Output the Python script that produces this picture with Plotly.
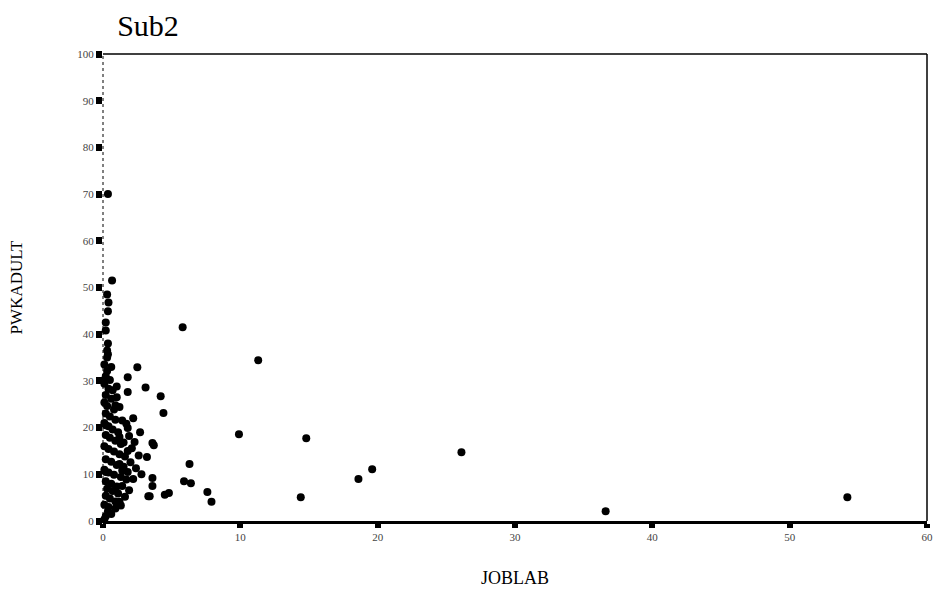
import plotly.graph_objects as go

# ---- data ----
title_text = "Sub2"
x_label = "JOBLAB"
y_label = "PWKADULT"
x_ticks = [0, 10, 20, 30, 40, 50, 60]
y_ticks = [0, 10, 20, 30, 40, 50, 60, 70, 80, 90, 100]

# scattered points away from the axis
outer_x = [5.8, 11.3, 4.2, 4.4, 9.9, 14.8, 26.1, 19.6, 18.6, 14.4, 54.2, 36.6,
           6.3, 5.9, 6.4, 7.6, 7.9, 4.5, 4.8, 3.6, 3.4, 3.6, 2.8, 3.2, 3.7, 3.6,
           2.5, 1.8, 3.1, 1.0, 1.8, 1.2, 1.8, 2.3, 1.8, 1.2, 1.8, 1.4, 1.2, 3.3]
outer_y = [41.5, 34.4, 26.7, 23.1, 18.6, 17.7, 14.7, 11.1, 9.0, 5.1, 5.1, 2.1,
           12.2, 8.5, 8.1, 6.2, 4.1, 5.6, 6.0, 7.5, 5.3, 9.2, 10.0, 13.7, 16.2, 16.7,
           32.9, 30.8, 28.6, 28.8, 27.6, 24.4, 19.9, 16.9, 15.0, 12.2, 10.5, 7.5, 4.1, 5.3]

# dense group close to the vertical axis
near_x = [0.66, 0.3, 0.36, 0.2, 0.36, 0.36, 0.36, 0.36, 0.2, 0.2, 0.2, 0.3,
          0.1, 0.3, 0.2, 0.5, 0.1, 0.4, 0.2, 0.6, 0.1, 0.3, 0.8, 0.2, 0.5, 0.9,
          0.1, 0.4, 0.7, 1.1, 0.2, 0.5, 0.9, 1.3, 0.1, 0.4, 0.8, 1.2, 1.6, 0.2,
          0.6, 1.0, 1.5, 0.1, 0.4, 0.8, 1.3, 1.7, 0.2, 0.6, 1.0, 0.3, 0.7, 1.1,
          0.2, 0.5, 0.9, 0.1, 0.4, 0.2, 0.6, 0.1, 1.5, 1.9, 2.1, 1.4, 2.0, 1.7,
          0.9, 1.2, 2.2, 1.9, 1.6, 2.4, 1.0, 0.7, 0.3, 0.2, 0.4, 0.6, 1.4, 2.6,
          2.7, 2.2, 0.9, 1.3]
near_y = [51.5, 48.5, 44.9, 40.8, 38.0, 35.7, 2.1, 70.0, 30.5, 20.5, 10.5, 35.0,
          33.5, 32.1, 31.0, 30.2, 29.4, 28.3, 27.0, 26.2, 25.4, 24.6, 23.9, 23.0, 22.4, 21.7,
          21.0, 20.3, 19.6, 19.0, 18.4, 17.8, 17.2, 16.5, 16.0, 15.4, 14.9, 14.3, 13.8, 13.2,
          12.7, 12.0, 11.6, 11.0, 10.4, 9.9, 9.4, 8.9, 8.5, 8.0, 7.4, 6.9, 6.4, 5.9,
          5.4, 4.8, 4.2, 3.5, 3.0, 1.0, 1.5, 0.3, 16.8, 18.2, 15.6, 21.5, 12.6, 20.8,
          24.8, 18.0, 9.0, 6.6, 5.2, 11.3, 26.5, 28.0, 36.5, 42.5, 46.8, 33.0, 10.8, 14.0,
          19.0, 22.0, 2.7, 3.3]

serif = "Liberation Serif, Times New Roman, serif"

fig = go.Figure()
fig.add_trace(go.Scatter(
    x=outer_x + near_x, y=outer_y + near_y, mode="markers",
    marker=dict(symbol="circle", size=8, color="black"),
    cliponaxis=False, showlegend=False, hoverinfo="x+y"))

fig.update_layout(
    width=934, height=608,
    margin=dict(l=103, r=7, t=54, b=87, autoexpand=False),
    paper_bgcolor="white", plot_bgcolor="white",
    font=dict(family=serif, color="black"),
    title=dict(text=title_text, x=148 / 934, xanchor="center", y=1 - 25 / 608,
               yanchor="middle", font=dict(family=serif, size=30, color="black")),
    xaxis=dict(range=[0, 60], tickvals=x_ticks, ticks="outside", ticklen=4,
               tickwidth=6, tickcolor="black", showgrid=False, zeroline=False,
               showline=True, linecolor="black", linewidth=3, automargin=False,
               tickfont=dict(family=serif, size=11, color="#444"),
               title=dict(text=x_label, standoff=30,
                          font=dict(family=serif, size=18, color="black"))),
    yaxis=dict(range=[0, 100], tickvals=y_ticks, ticks="outside", ticklen=6,
               tickwidth=7, tickcolor="black", showgrid=False, zeroline=False,
               showline=False, automargin=False,
               tickfont=dict(family=serif, size=11, color="#444"),
               title=dict(text=y_label, standoff=50,
                          font=dict(family=serif, size=17, color="black"))),
    shapes=[
        dict(type="line", xref="paper", yref="paper", x0=0, x1=1, y0=1, y1=1,
             line=dict(color="black", width=1.5)),
        dict(type="line", xref="paper", yref="paper", x0=1, x1=1, y0=0, y1=1,
             line=dict(color="black", width=1.5)),
        dict(type="line", xref="paper", yref="paper", x0=0, x1=0, y0=0, y1=1,
             line=dict(color="black", width=1, dash="dot")),
    ],
)

fig.write_html("out.html", config={"displayModeBar": False},
               post_script="document.body.style.margin='0px';document.body.style.overflow='hidden';")
